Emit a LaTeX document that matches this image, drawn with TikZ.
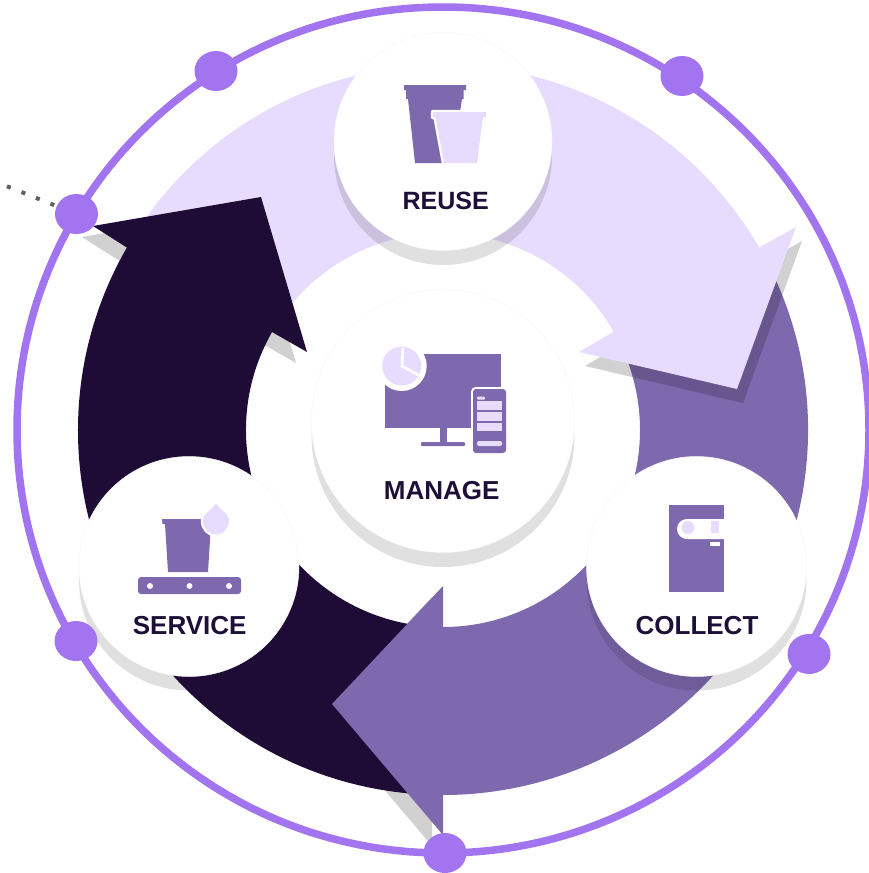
\documentclass[tikz,border=0pt]{standalone}
\usepackage{fontspec}
\setmainfont{Liberation Sans}
\usetikzlibrary{shapes.geometric}
\definecolor{ringc}{RGB}{163,116,240}
\definecolor{lightc}{RGB}{232,220,254}
\definecolor{midc}{RGB}{127,105,174}
\definecolor{darkc}{RGB}{30,11,54}
\definecolor{inkc}{RGB}{29,15,56}
\definecolor{dotc}{RGB}{96,96,96}
\tikzset{
  arrowshadow/.style={fill=black,fill opacity=.18},
  discshadow/.style={circle,fill=black,fill opacity=.12,inner sep=0pt,outer sep=0pt,text opacity=0},
  disc/.style={circle,fill=white,inner sep=0pt,outer sep=0pt,draw=black!3,line width=.5pt},
  ringdot/.style={ellipse,fill=ringc,inner sep=0pt,outer sep=0pt,minimum width=43pt,minimum height=40pt},
  caption/.style={text=inkc,font=\fontsize{26}{26}\selectfont\bfseries,inner sep=0pt},
  iconcut/.style={draw=white,line width=4.5pt,line join=round},
}
\begin{document}
\begin{tikzpicture}[x=1pt,y=-1pt]
\useasboundingbox (0,0) rectangle (869,873);
\fill[white] (0,0) rectangle (869,873);
\coordinate (c) at (443,430);
% shadows that fall on white only
\fill[arrowshadow] (115,258) -- (82,237) -- (250,208) -- (296,363) -- (261,343) -- cycle;
\fill[arrowshadow] (432,806) -- (432,846) -- (321,715) -- (432,597) -- (432,638) -- cycle;
\node[discshadow,minimum size=220pt] (serviceS) at (189,580.5) {};
% tails
\begin{scope}[shift={(c)}]
\fill[darkc] (267:365pt) arc[start angle=267,end angle=149,radius=365pt] -- (149:197pt) arc[start angle=149,end angle=267,radius=197pt] -- cycle;
\fill[midc] (27:365pt) arc[start angle=27,end angle=-91,radius=365pt] -- (-91:197pt) arc[start angle=-91,end angle=27,radius=197pt] -- cycle;
\end{scope}
\fill[arrowshadow] (766,261) -- (802,241) -- (743,403) -- (585,366) -- (619,346) -- cycle;
\begin{scope}[shift={(c)}]
\fill[lightc] (147:365pt) arc[start angle=147,end angle=29,radius=365pt] -- (29:197pt) arc[start angle=29,end angle=147,radius=197pt] -- cycle;
\end{scope}
% arrow heads
\fill[lightc] (760,247) -- (796,227) -- (737,389) -- (579,352) -- (613,332) -- cycle;
\fill[darkc] (126,247) -- (93,226) -- (261,197) -- (307,352) -- (272,332) -- cycle;
\fill[midc] (443,795) -- (443,835) -- (332,704) -- (443,586) -- (443,627) -- cycle;
% discs
\node[discshadow,minimum size=218pt] (reuseS) at (443,156) {};
\node[disc,minimum size=218pt] (reuse) at (443,141.5) {};
\node[discshadow,minimum size=263pt] (manageS) at (443,435.5) {};
\node[disc,minimum size=263pt] (manage) at (443,421) {};
\node[disc,minimum size=220pt] (service) at (189,566.5) {};
\node[discshadow,minimum size=220pt] (collectS) at (696.5,580.5) {};
\node[disc,minimum size=220pt] (collect) at (696.5,566.5) {};
% outer ring, dotted lead, dots
\draw[ringc,line width=7.5pt] (c) circle[x radius=426pt,y radius=423pt];
\coordinate (lead) at (7,186.3);
\node[ringdot] (d1) at (216,71) {};
\node[ringdot] (d2) at (682,76) {};
\node[ringdot] (d3) at (76.5,214) {};
\node[ringdot] (d4) at (76,641) {};
\node[ringdot] (d5) at (809,654) {};
\node[ringdot] (d6) at (445,853) {};
\draw[dotc,line width=4pt,dash pattern=on 4pt off 11.6pt] (lead) -- (d3);
% reuse icon
\fill[midc] (404,85) -- (466,85) -- (466,90) -- (463.5,90) -- (463.5,99) -- (462,99) -- (452,163) -- (415,163) -- (408,99) -- (406,99) -- (406,90) -- (404,90) -- cycle;
\path[fill=lightc,iconcut] (433,112) -- (486,112) -- (486,117) -- (483,117) -- (477,163) -- (444,163) -- (435.5,117) -- (433,117) -- cycle;
\fill[lightc] (433,112) -- (486,112) -- (486,117) -- (483,117) -- (477,163) -- (444,163) -- (435.5,117) -- (433,117) -- cycle;
\node[caption,font=\fontsize{25}{25}\selectfont\bfseries] (reuseT) at (445.7,200.5) {REUSE};
% manage icon
\fill[midc] (385,354) rectangle (501,428);
\fill[midc] (440,428) rectangle (447,442);
\fill[midc,rounded corners=1pt] (421,442) rectangle (465,446);
\fill[white] (401.7,366) circle[radius=25pt];
\fill[lightc] (401.7,366) circle[radius=19.5pt];
\draw[white,line width=2.6pt] (403,348) -- (402,366) -- (420,376);
\draw[white,line width=4pt,rounded corners=3pt] (473,389) rectangle (506,453);
\fill[midc,rounded corners=3pt] (473,389) rectangle (506,453);
\fill[lightc] (477,401) rectangle (502,410);
\fill[lightc] (477,412) rectangle (502,421);
\fill[lightc] (477,423) rectangle (502,431);
\fill[lightc,rounded corners=1pt] (477,396.5) rectangle (485,399.5);
\fill[lightc,rounded corners=2pt] (477,441) rectangle (502,446);
\node[caption] (manageT) at (441.7,491) {MANAGE};
% service icon
\fill[midc] (162,519) -- (212,519) -- (212,524) -- (211,524) -- (208,572) -- (168,572) -- (165,524) -- (162.5,524) -- cycle;
\def\droplet{(216,503) .. controls (213,509) and (203,513) .. (203,521) .. controls (203,528.5) and (209,534.5) .. (216,534.5) .. controls (223,534.5) and (229,528.5) .. (229,521) .. controls (229,513) and (219,509) .. (216,503) -- cycle}
\draw[iconcut,fill=white] \droplet;
\fill[lightc] \droplet;
\fill[midc,rounded corners=3pt] (138,577) rectangle (241,594);
\fill[white] (150,586) circle[radius=3pt] (189.5,586) circle[radius=3pt] (229,586) circle[radius=3pt];
\node[caption] (serviceT) at (189.7,626) {SERVICE};
% collect icon
\fill[midc] (669,505) rectangle (724,592);
\fill[white] (724,519) -- (687,519) arc[start angle=90,end angle=270,radius=10pt] -- (724,539) -- cycle;
\fill[lightc] (688,527.5) circle[radius=6.5pt];
\fill[lightc] (711,521) rectangle (719,533);
\fill[white] (710,542) rectangle (720,546);
\node[caption] (collectT) at (697,626) {COLLECT};
\end{tikzpicture}
\end{document}
